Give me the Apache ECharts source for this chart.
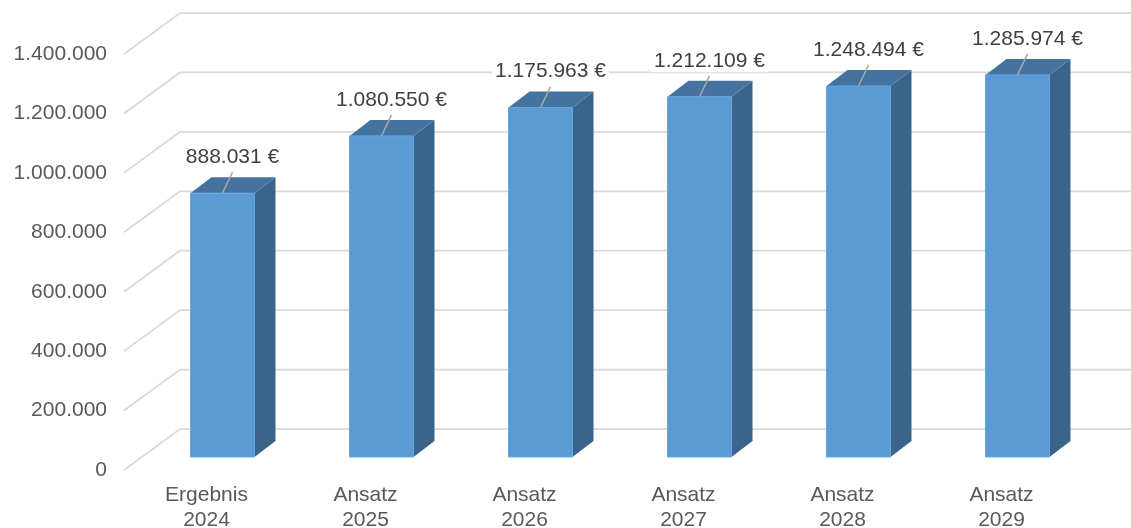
<!DOCTYPE html>
<html>
<head>
<meta charset="utf-8">
<script src="https://cdn.jsdelivr.net/npm/echarts@6/dist/echarts.min.js"></script>
<style>
  html, body { margin: 0; padding: 0; background: #ffffff; }
  #chart { width: 1131px; height: 528px; }
</style>
</head>
<body>
<div id="chart"></div>
<script>
const categories = ['Ergebnis\n2024', 'Ansatz\n2025', 'Ansatz\n2026', 'Ansatz\n2027', 'Ansatz\n2028', 'Ansatz\n2029'];
const values = [888031, 1080550, 1175963, 1212109, 1248494, 1285974];
const gridTicks = [0, 200000, 400000, 600000, 800000, 1000000, 1200000, 1400000];

function fmt(v) {
  return String(v).replace(/\B(?=(\d{3})+(?!\d))/g, '.');
}

const FONT = 'Liberation Sans, Arial, sans-serif';
const chart = echarts.init(document.getElementById('chart'));

const option = {
  animation: false,
  backgroundColor: '#ffffff',
  grid: { left: 127, right: 50, top: 54, bottom: 58, containLabel: false, outerBoundsMode: 'none' },
  xAxis: {
    type: 'category',
    data: categories,
    axisLine: { show: false },
    axisTick: { show: false },
    splitLine: { show: false },
    axisLabel: {
      color: '#595959', fontSize: 21, lineHeight: 25, margin: 13,
      fontFamily: FONT, interval: 0
    }
  },
  yAxis: {
    type: 'value',
    min: 0, max: 1400000, interval: 200000,
    axisLine: { show: false },
    axisTick: { show: false },
    splitLine: { show: false },
    axisLabel: {
      color: '#595959', fontSize: 21, margin: 20, fontFamily: FONT,
      formatter: function (v) { return fmt(v); }
    }
  },
  series: [
    {
      type: 'custom',
      name: 'gridlines',
      silent: true,
      z: 1,
      data: gridTicks.map(function (v) { return [0, v]; }),
      renderItem: function (params, api) {
        const y = api.coord([0, api.value(1)])[1];
        const x0 = params.coordSys.x - 3;
        const W = api.getWidth();
        return {
          type: 'polyline',
          shape: { points: [[x0, y], [x0 + 56, y - 41], [W, y - 41]] },
          style: { stroke: '#d9d9d9', lineWidth: 1.75, fill: null }
        };
      }
    },
    {
      type: 'custom',
      name: 'bars',
      z: 5,
      data: values.map(function (v, i) { return [i, v]; }),
      renderItem: function (params, api) {
        const i = api.value(0), v = api.value(1);
        const c = api.coord([i, v]);
        const b = api.coord([i, 0]);
        const fc = c[0] + 16, hw = 32;
        const top = c[1] - 13, bot = b[1] - 13;
        const dx = 21, dy = -16;
        return {
          type: 'group',
          children: [
            {
              type: 'polygon',
              shape: { points: [[fc + hw, top], [fc + hw + dx, top + dy], [fc + hw + dx, bot + dy], [fc + hw, bot]] },
              style: { fill: '#3A6489' }
            },
            {
              type: 'polygon',
              shape: { points: [[fc - hw, top], [fc - hw + dx, top + dy], [fc + hw + dx, top + dy], [fc + hw, top]] },
              style: { fill: '#4473A0' }
            },
            {
              type: 'rect',
              shape: { x: fc - hw, y: top, width: hw * 2, height: bot - top },
              style: { fill: '#5B9BD5', stroke: '#67A6DE', lineWidth: 1 }
            },
            {
              type: 'line',
              shape: { x1: fc, y1: top, x2: fc + 10, y2: top - 21 },
              style: { stroke: '#A6A6A6', lineWidth: 1.5 }
            },
            {
              type: 'text',
              z2: 10,
              style: {
                x: fc + 10, y: top - 36,
                text: fmt(v) + ' €',
                align: 'center', verticalAlign: 'middle',
                fill: '#404040',
                font: '21px ' + FONT,
                backgroundColor: '#ffffff',
                padding: [1, 3]
              }
            }
          ]
        };
      }
    }
  ]
};

chart.setOption(option);
</script>
</body>
</html>
